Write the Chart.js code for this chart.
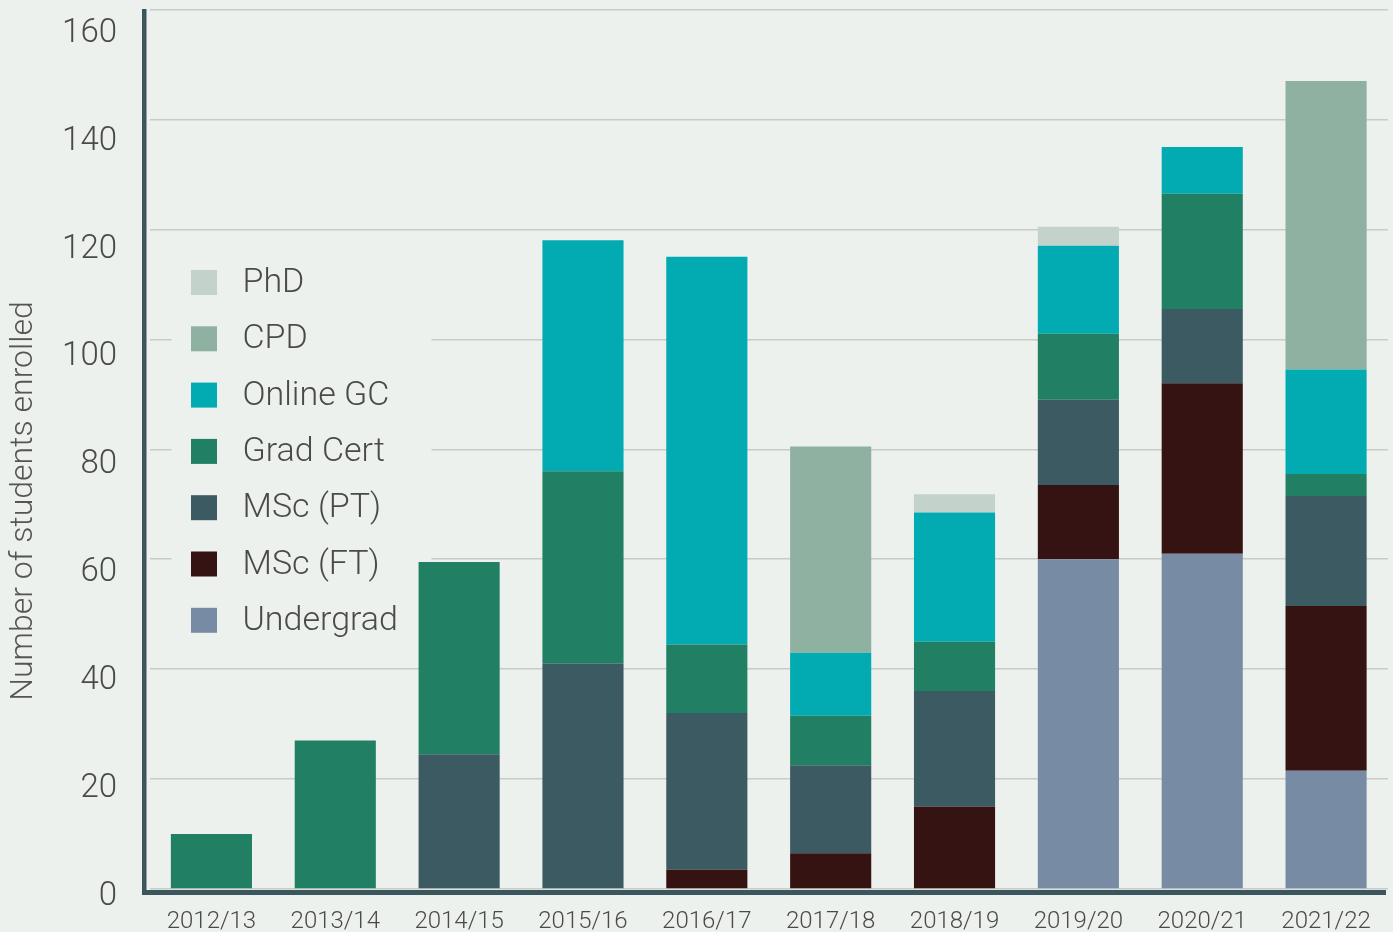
<!DOCTYPE html>
<html>
<head>
<meta charset="utf-8">
<title>Student enrolments</title>
<script src="https://cdn.jsdelivr.net/npm/chart.js@4.4.1/dist/chart.umd.min.js"></script>
<style>
  html, body { margin: 0; padding: 0; background: #edf1ed; }
  #wrap { width: 1393px; height: 932px; }
</style>
</head>
<body>
<div id="wrap"><canvas id="enrolChart" width="1393" height="932"></canvas></div>
<script>
// ============================
// ENROLMENT DATA (per academic year)
// ============================
const years     = ["2012/13", "2013/14", "2014/15", "2015/16", "2016/17", "2017/18", "2018/19", "2019/20", "2020/21", "2021/22"];
const undergrad = [0,  0,    0,    0,    0,    0,    0,    60,   61,   21.5];
const mscFT     = [0,  0,    0,    0,    3.5,  6.5,  15,   13.5, 31,   30];
const mscPT     = [0,  0,    24.5, 41,   28.5, 16,   21,   15.5, 13.5, 20];
const gradCert  = [10, 27,   35,   35,   12.5, 9,    9,    12,   21,   4];
const onlineGC  = [0,  0,    0,    42,   70.5, 11.5, 23.5, 16,   8.5,  19];
const cpd       = [0,  0,    0,    0,    0,    37.5, 0,    0,    0,    52.5];
const phd       = [0,  0,    0,    0,    0,    0,    3.3,  3.5,  0,    0];

const yTicks = [0, 20, 40, 60, 80, 100, 120, 140, 160];

// ============================
// THEME
// ============================
const FONT = "Roboto, 'Open Sans', sans-serif";
const TEXT = "#4a4a4a";
const AXIS = "#3b565c";
const BG = "#edf1ed";

Chart.defaults.font.family = FONT;
Chart.defaults.font.weight = 300;
Chart.defaults.color = TEXT;

// thick axis lines, drawn over the bar bases
const axisLines = {
    id: "axisLines",
    afterDatasetsDraw(chart) {
        const { ctx, chartArea } = chart;
        const x0 = chartArea.left - 7.5;
        ctx.save();
        ctx.fillStyle = AXIS;
        ctx.fillRect(x0, chartArea.top - 0.5, 4.5, chartArea.bottom - chartArea.top + 6.5);
        ctx.fillRect(x0, chartArea.bottom + 1, chartArea.right - 2 - x0, 5);
        ctx.restore();
    }
};

// legend box inside the plot, plus the rotated y title
const innerLegend = {
    id: "innerLegend",
    beforeDatasetsDraw(chart) {
        const { ctx, chartArea } = chart;
        const sets = chart.data.datasets.slice().reverse();
        const left = chartArea.left;
        const top = 282.5;
        const step = 56.3;

        ctx.save();
        // hide the gridlines behind the legend
        ctx.fillStyle = BG;
        ctx.fillRect(left + 22, top - 35, 260, step * sets.length + 15);

        ctx.font = "300 34px " + FONT;
        ctx.textBaseline = "middle";
        ctx.textAlign = "left";
        sets.forEach((ds, i) => {
            const cy = top + i * step;
            ctx.fillStyle = ds.backgroundColor;
            ctx.fillRect(left + 41.5, cy - 12.5, 26, 25);
            ctx.fillStyle = TEXT;
            ctx.fillText(ds.label, left + 93, cy + 1);
        });

        // y axis title
        ctx.translate(24, 501);
        ctx.rotate(-Math.PI / 2);
        ctx.textAlign = "center";
        ctx.fillStyle = "#555";
        ctx.font = "300 32px " + FONT;
        ctx.fillText("Number of students enrolled", 0, 0);
        ctx.restore();
    }
};

const ctx = document.getElementById("enrolChart").getContext("2d");

new Chart(ctx, {
    type: "bar",
    data: {
        labels: years,
        datasets: [
            { label: "Undergrad", data: undergrad, backgroundColor: "#778ca4" },
            { label: "MSc (FT)",  data: mscFT,     backgroundColor: "#361313" },
            { label: "MSc (PT)",  data: mscPT,     backgroundColor: "#3c5a62" },
            { label: "Grad Cert", data: gradCert,  backgroundColor: "#217f63" },
            { label: "Online GC", data: onlineGC,  backgroundColor: "#02aab1" },
            { label: "CPD",       data: cpd,       backgroundColor: "#8eb1a2" },
            { label: "PhD",       data: phd,       backgroundColor: "#c3d3cb" }
        ]
    },
    options: {
        responsive: false,
        animation: false,
        layout: { padding: { top: 9.5, right: 5, left: 0, bottom: 0 } },
        datasets: {
            bar: { categoryPercentage: 1, barPercentage: 0.655, borderWidth: 0 }
        },
        plugins: {
            legend: { display: false },
            tooltip: { enabled: false }
        },
        scales: {
            x: {
                stacked: true,
                grid: { display: false },
                border: { display: false },
                ticks: { color: TEXT, padding: 11, font: { size: 24, weight: 300 } },
                afterFit(s) {
                    s.height = 43;
                    s.paddingLeft = 0;
                    s.paddingRight = 0;
                }
            },
            y: {
                stacked: true,
                min: 0,
                max: 160,
                grid: { color: "#c7ccc7", lineWidth: 1.5, drawTicks: false },
                border: { display: false },
                ticks: { display: false, stepSize: 20 },
                afterFit(s) {
                    s.width = 6;
                    s.paddingTop = 0;
                    s.paddingBottom = 0;
                }
            },
            // tick labels sit on their own slightly tighter scale
            yText: {
                position: "left",
                weight: 10,
                min: 1.39,
                max: 164.45,
                grid: { display: false, drawTicks: false },
                border: { display: false },
                ticks: { color: TEXT, padding: 26.5, font: { size: 33, weight: 300 } },
                afterBuildTicks(s) {
                    s.ticks = yTicks.map(v => ({ value: v }));
                },
                afterFit(s) {
                    s.width = 143.5;
                    s.paddingTop = 0;
                    s.paddingBottom = 0;
                }
            }
        }
    },
    plugins: [innerLegend, axisLines]
});
</script>
</body>
</html>
